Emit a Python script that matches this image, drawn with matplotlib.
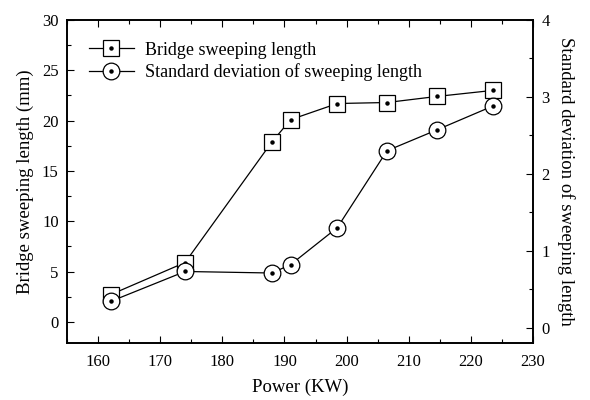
import matplotlib
matplotlib.use("Agg")
import matplotlib.pyplot as plt
from matplotlib.ticker import MultipleLocator
from matplotlib.legend_handler import HandlerTuple
from matplotlib.lines import Line2D

power = [162, 174, 188, 191, 198.5, 206.5, 214.5, 223.5]
sweep_len = [2.7, 5.9, 17.9, 20.1, 21.7, 21.8, 22.4, 23.0]
sweep_std = [0.34, 0.73, 0.71, 0.82, 1.30, 2.30, 2.57, 2.88]

plt.rcParams['font.family'] = ['Liberation Serif', 'DejaVu Serif']

fig = plt.figure(figsize=(5.9, 4.0), dpi=100)
ax = fig.add_axes([0.1136, 0.1425, 0.7898, 0.8075])
ax2 = ax.twinx()

ms = 12
ax.plot(power, sweep_len, color='black', lw=0.9, marker='s', ms=ms,
        mfc='white', mec='black', mew=0.9, zorder=3)
ax.plot(power, sweep_len, ls='none', marker='o', ms=2.2, color='black', zorder=4)
ax2.plot(power, sweep_std, color='black', lw=0.9, marker='o', ms=ms,
         mfc='white', mec='black', mew=0.9, zorder=3)
ax2.plot(power, sweep_std, ls='none', marker='o', ms=2.2, color='black', zorder=4)

ax.set_xlim(155, 230)
ax.set_ylim(-2.1, 30)
ax2.set_ylim(-0.2, 4)

ax.xaxis.set_major_locator(MultipleLocator(10))
ax.xaxis.set_minor_locator(MultipleLocator(5))
ax.yaxis.set_major_locator(MultipleLocator(5))
ax.yaxis.set_minor_locator(MultipleLocator(2.5))
ax2.yaxis.set_major_locator(MultipleLocator(1))
ax2.yaxis.set_minor_locator(MultipleLocator(0.5))

ax.tick_params(axis='both', which='both', direction='in', labelsize=12, top=True)
ax.tick_params(which='major', length=5, width=0.8)
ax.tick_params(which='minor', length=3, width=0.8)
ax2.tick_params(axis='y', which='both', direction='in', labelsize=12)
ax2.tick_params(which='major', length=5, width=0.8)
ax2.tick_params(which='minor', length=3, width=0.8)
ax.tick_params(axis='x', pad=8)
ax.tick_params(axis='y', pad=6)
ax2.tick_params(axis='y', pad=6)

for a in (ax, ax2):
    for s in a.spines.values():
        s.set_linewidth(1.2)

ax.set_xlabel('Power (KW)', fontsize=13.5, labelpad=6)
ax.set_ylabel('Bridge sweeping length (mm)', fontsize=13.5, labelpad=6)
ax2.set_ylabel('Standard deviation of sweeping length', fontsize=13.5,
               rotation=270, labelpad=18)

h1 = (Line2D([], [], color='black', lw=0.9, marker='s', ms=ms, mfc='white', mec='black', mew=0.9),
      Line2D([], [], ls='none', marker='o', ms=2.2, color='black'))
h2 = (Line2D([], [], color='black', lw=0.9, marker='o', ms=ms, mfc='white', mec='black', mew=0.9),
      Line2D([], [], ls='none', marker='o', ms=2.2, color='black'))
ax.legend([h1, h2], ['Bridge sweeping length', 'Standard deviation of sweeping length'],
          handler_map={tuple: HandlerTuple(ndivide=1, pad=0)},
          loc='upper left', frameon=False, fontsize=13, handlelength=2.5,
          handletextpad=0.6, labelspacing=0.25, borderaxespad=0.8)

fig.savefig('out.png', dpi=100)
